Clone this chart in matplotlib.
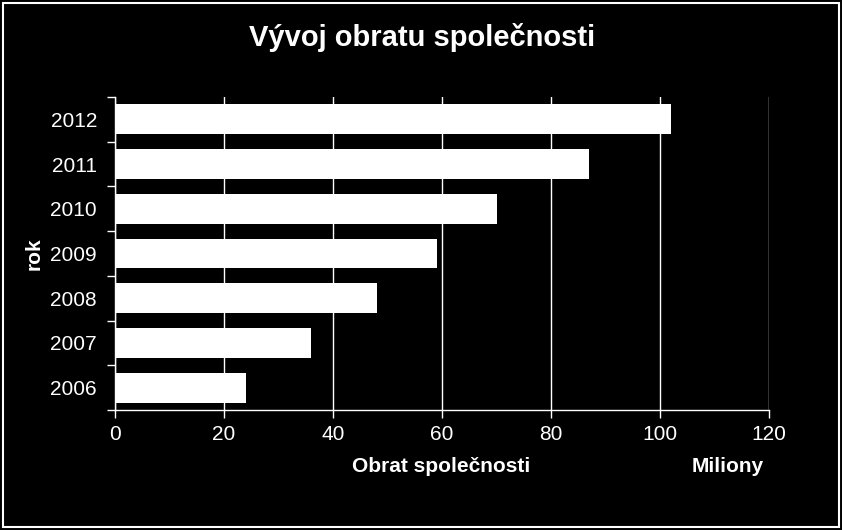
import matplotlib
matplotlib.use("Agg")
import matplotlib.pyplot as plt
from matplotlib.patches import Rectangle

# Data
years = ["2006", "2007", "2008", "2009", "2010", "2011", "2012"]
turnover = [24, 36, 48, 59, 70, 87, 102]
x_ticks = [0, 20, 40, 60, 80, 100, 120]

plt.rcParams['font.family'] = ['Liberation Sans', 'DejaVu Sans']


def main():
    fig = plt.figure(figsize=(8.42, 5.30), dpi=100, facecolor="black")
    ax = fig.add_axes([115 / 842, 120 / 530, 654 / 842, 313 / 530])
    ax.set_facecolor("black")

    pos = list(range(len(years)))
    ax.barh(pos, turnover, height=0.67, color="white", zorder=3)

    ax.set_xlim(0, 120)
    ax.set_ylim(-0.5, len(years) - 0.5)
    ax.set_xticks(x_ticks)
    ax.set_xticklabels([str(t) for t in x_ticks])
    ax.set_yticks(pos)
    ax.set_yticklabels(years)
    ax.set_yticks([p - 0.5 for p in pos] + [len(years) - 0.5], minor=True)

    ax.grid(True, axis="x", color="white", linewidth=1, zorder=1)
    for side in ["top", "right"]:
        ax.spines[side].set_visible(False)
    for side in ["left", "bottom"]:
        ax.spines[side].set_color("white")
        ax.spines[side].set_linewidth(1)

    ax.tick_params(axis="x", colors="white", labelsize=15, length=6, width=1,
                   direction="out", pad=5)
    ax.tick_params(axis="y", which="major", length=0, colors="white",
                   labelsize=15, pad=13)
    ax.tick_params(axis="y", which="minor", length=6, width=1, color="white",
                   direction="out")

    fig.text(422 / 842, 1 - 37 / 530, "Vývoj obratu společnosti", color="white",
             fontsize=21, fontweight="bold", ha="center", va="center")
    fig.text(441 / 842, 1 - 467 / 530, "Obrat společnosti", color="white",
             fontsize=15, fontweight="bold", ha="center", va="center")
    fig.text(728 / 842, 1 - 467 / 530, "Miliony", color="white",
             fontsize=15, fontweight="bold", ha="center", va="center")
    fig.text(34 / 842, 1 - 254 / 530, "rok", color="white", rotation=90,
             fontsize=15, fontweight="bold", ha="center", va="center")

    # white frame around the chart
    fig.patches.append(Rectangle((3 / 842, 3 / 530), 836 / 842, 524 / 530,
                                 transform=fig.transFigure, fill=False,
                                 edgecolor="white", linewidth=1.5))

    fig.savefig("out.png", dpi=100, facecolor="black")


if __name__ == '__main__':
    main()
